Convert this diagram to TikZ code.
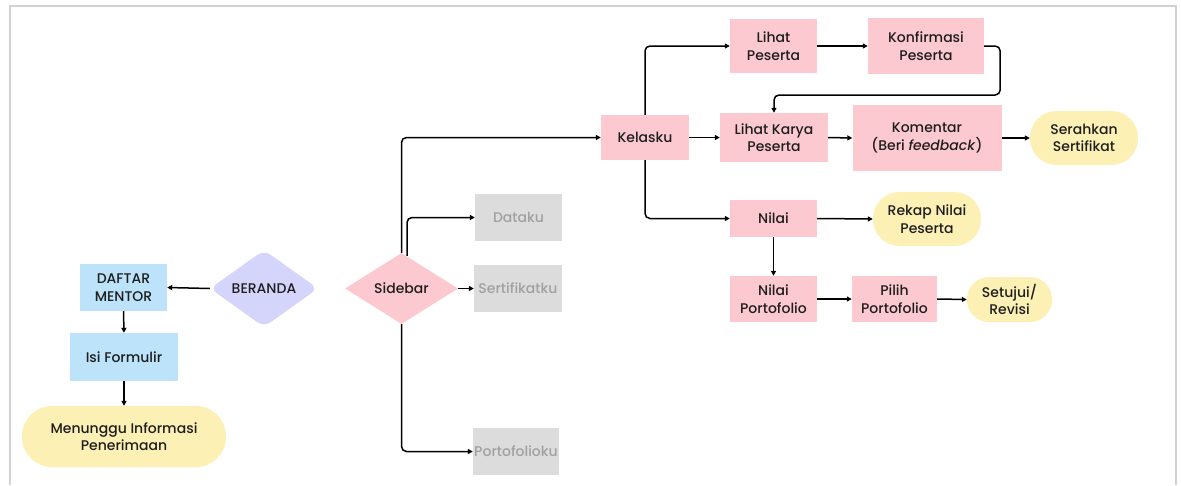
\documentclass[tikz,border=0pt]{standalone}
\usepackage{fontspec}
\setmainfont{Poppins}[UprightFont={* Medium}, ItalicFont={* Medium Italic}]
\usetikzlibrary{arrows.meta,shapes.geometric,calc}
\definecolor{pinkbox}{HTML}{FDC9D0}
\definecolor{bluebox}{HTML}{BDE3FB}
\definecolor{lavbox}{HTML}{D5D5FB}
\definecolor{yelbox}{HTML}{FCF0B5}
\definecolor{graybox}{HTML}{DCDCDC}
\definecolor{graytxt}{HTML}{A0A0A0}
\definecolor{darktxt}{HTML}{1E1E1E}
\definecolor{framec}{HTML}{D2D2D2}
\tikzset{
  base/.style={inner sep=0pt, align=center, text=darktxt,
    font=\fontsize{14}{17.5}\selectfont},
  pbox/.style={base, rectangle, fill=pinkbox},
  bbox/.style={base, rectangle, fill=bluebox},
  gbox/.style={base, rectangle, fill=graybox, text=graytxt},
  term/.style={base, rectangle, fill=yelbox},
  conn/.style={line width=1.5pt, draw=black, rounded corners=5pt,
    -{Triangle[length=5pt,width=5pt]}},
}
\begin{document}
\begin{tikzpicture}[x=1pt,y=-1pt]
\useasboundingbox (0,0) rectangle (1181,485);
\fill[white] (0,0) rectangle (1181,485);
\draw[framec, line width=2.5pt] (10,485) -- (10,6) -- (1176,6) -- (1176,485);

% left column
\node[bbox, minimum width=87pt, minimum height=47pt] (daft) at (123.5,287.5) {DAFTAR\\MENTOR};
\node[bbox, minimum width=108pt, minimum height=48pt] (isi) at (124,357) {Isi Formulir};
\node[term, minimum width=204pt, minimum height=61pt, rounded corners=30pt] (mng) at (124,436.5) {Menunggu Informasi\\Penerimaan};
\node[base, diamond, fill=lavbox, minimum width=108pt, minimum height=77pt, rounded corners=8pt] (ber) at (264,288.5) {BERANDA};

% sidebar
\node[base, diamond, fill=pinkbox, minimum width=113pt, minimum height=71pt] (sb) at (401.5,288.5) {Sidebar};
\node[gbox, minimum width=87pt, minimum height=47pt] (dat) at (518.5,217.5) {Dataku};
\node[gbox, minimum width=88pt, minimum height=47pt] (sert) at (518,288.5) {Sertifikatku};
\node[gbox, minimum width=86pt, minimum height=47pt] (port) at (516,451.5) {Portofolioku};

% kelasku branch
\node[pbox, minimum width=88pt, minimum height=45pt] (kel) at (645,137.5) {Kelasku};
\node[pbox, minimum width=87pt, minimum height=54pt] (lp) at (773.5,46) {Lihat\\Peserta};
\node[pbox, minimum width=116pt, minimum height=56pt] (kp) at (926,46) {Konfirmasi\\Peserta};
\node[pbox, minimum width=108pt, minimum height=49pt] (lk) at (774,137.5) {Lihat Karya\\Peserta};
\node[pbox, minimum width=149pt, minimum height=66pt] (kom) at (927,138) {Komentar\\(Beri \textit{feedback})};
\node[term, minimum width=108pt, minimum height=54pt, rounded corners=26.5pt] (ser) at (1084,138) {Serahkan\\Sertifikat};
\node[pbox, minimum width=87pt, minimum height=37pt] (nil) at (773.5,218.5) {Nilai};
\node[term, minimum width=108pt, minimum height=54pt, rounded corners=26.5pt] (rek) at (927,219) {Rekap Nilai\\Peserta};
\node[pbox, minimum width=87pt, minimum height=46pt] (np) at (773.5,299) {Nilai\\Portofolio};
\node[pbox, minimum width=85pt, minimum height=46pt] (pp) at (894.5,299) {Pilih\\Portofolio};
\node[term, minimum width=85pt, minimum height=45pt, rounded corners=22pt] (stj) at (1009.5,299.5) {Setujui/\\Revisi};

\coordinate (sbt) at ($(sb.north)+(5.5,3)$);

% connectors
\draw[conn] (ber.west) -- (daft.east);
\draw[conn] (daft.south) -- (isi.north);
\draw[conn] (isi.south) -- (mng.north);
\draw[conn] (sb.north) |- (kel.west);
\draw[conn] (sbt) |- (dat.west);
\draw[conn] (sb.east) -- (sert.west);
\draw[conn] (sb.south) |- (port.west);
\draw[conn] (kel.east) -- (lk.west);
\draw[conn] (kel.north) |- (lp.west);
\draw[conn] (kel.south) |- (nil.west);
\draw[conn] (lp.east) -- (kp.west);
\draw[conn] (kp.east) -- ++(16,0) -- ++(0,49) -| (lk.north);
\draw[conn] (lk.east) -- (kom.west);
\draw[conn] (kom.east) -- (ser.west);
\draw[conn] (nil.east) -- (rek.west);
\draw[conn] (nil.south) -- (np.north);
\draw[conn] (np.east) -- (pp.west);
\draw[conn] (pp.east) -- (stj.west);
\end{tikzpicture}
\end{document}
